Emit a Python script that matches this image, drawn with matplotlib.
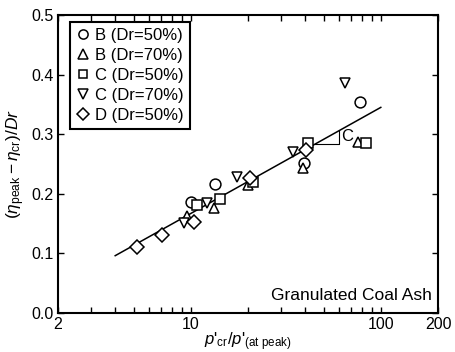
import numpy as np
import matplotlib
matplotlib.use("Agg")
from matplotlib import pyplot as plt

plt.rcParams['font.family'] = ['Liberation Sans', 'DejaVu Sans']
plt.rcParams['mathtext.fontset'] = 'custom'
plt.rcParams['mathtext.rm'] = 'Liberation Sans'
plt.rcParams['mathtext.it'] = 'Liberation Sans:italic'

# data: x = p'cr/p'(at peak), y = (eta_peak - eta_cr)/Dr
b50_x = [10.0, 13.4, 39.3, 77.6]
b50_y = [0.186, 0.216, 0.252, 0.354]
b70_x = [9.5, 13.2, 20.0, 38.8, 75.5]
b70_y = [0.163, 0.176, 0.215, 0.243, 0.287]
c50_x = [10.75, 14.2, 21.2, 41.3, 84.0]
c50_y = [0.181, 0.191, 0.220, 0.285, 0.285]
c70_x = [9.2, 12.1, 17.4, 34.4, 64.6]
c70_y = [0.151, 0.185, 0.228, 0.270, 0.386]
d50_x = [5.2, 7.04, 10.4, 20.4, 40.4]
d50_y = [0.111, 0.131, 0.153, 0.226, 0.273]

# fitted line y = a + C*log10(x)
fit_a = -0.011
fit_c = 0.178
fit_x = [4.0, 100.0]

series = [
    (b50_x, b50_y, 'o', 'B (Dr=50%)'),
    (b70_x, b70_y, '^', 'B (Dr=70%)'),
    (c50_x, c50_y, 's', 'C (Dr=50%)'),
    (c70_x, c70_y, 'v', 'C (Dr=70%)'),
    (d50_x, d50_y, 'D', 'D (Dr=50%)'),
]

fig = plt.figure(figsize=(4.55, 3.52), dpi=100)
ax = fig.add_axes([58/455, 1-313/352, 380/455, 298/352])

fx = np.array(fit_x)
ax.plot(fx, fit_a + fit_c*np.log10(fx), color='black', lw=1.1, zorder=1)

# slope triangle
tx0, tx1 = 44.9, 60.2
ty0 = fit_a + fit_c*np.log10(tx0)
ty1 = fit_a + fit_c*np.log10(tx1)
ax.plot([tx0, tx1, tx1], [ty0, ty0, ty1], color='black', lw=0.8)
ax.text(tx1*1.03, (ty0 + ty1)/2 + 0.001, 'C', fontsize=12, va='center', ha='left')

for xs, ys, m, lab in series:
    ms = 6.8 if m in ('s', 'D') else 7.8
    ax.plot(xs, ys, ls='none', marker=m, ms=ms, mfc='white', mec='black',
            mew=1.1, label=lab, zorder=3)

ax.set_xscale('log')
ax.set_xlim(2, 200)
ax.set_ylim(0, 0.5)
xt = [2, 10, 100, 200]
ax.set_xticks(xt)
ax.set_xticklabels([str(v) for v in xt])
ax.set_xticks(list(range(3, 10)) + list(range(20, 100, 10)), minor=True)
ax.xaxis.set_minor_formatter(plt.NullFormatter())
ax.set_yticks(np.arange(0, 0.51, 0.1))
ax.set_yticklabels(['%.1f' % v for v in np.arange(0, 0.51, 0.1)])
ax.tick_params(which='both', direction='in', top=True, right=True,
               length=4, width=1, labelsize=11.5, pad=3)
for s in ax.spines.values():
    s.set_linewidth(1.5)

ax.set_xlabel(r"$p$'$_{\rm cr}$/$p$'$_{\rm (at\ peak)}$", fontsize=12, labelpad=-1)
ax.set_ylabel(r"$(\eta_{\rm peak}-\eta_{\rm cr})/Dr$", fontsize=12.5, labelpad=3)

ax.text(0.985, 0.035, 'Granulated Coal Ash', transform=ax.transAxes,
        ha='right', va='bottom', fontsize=12.5)

leg = ax.legend(loc='upper left', bbox_to_anchor=(0.032, 0.975), fontsize=12,
                handlelength=0.8, handletextpad=0.35, borderpad=0.35,
                labelspacing=0.3, markerscale=0.85, fancybox=False,
                edgecolor='black', framealpha=1, borderaxespad=0)
leg.get_frame().set_linewidth(1.5)

fig.savefig('out.png', dpi=100)
